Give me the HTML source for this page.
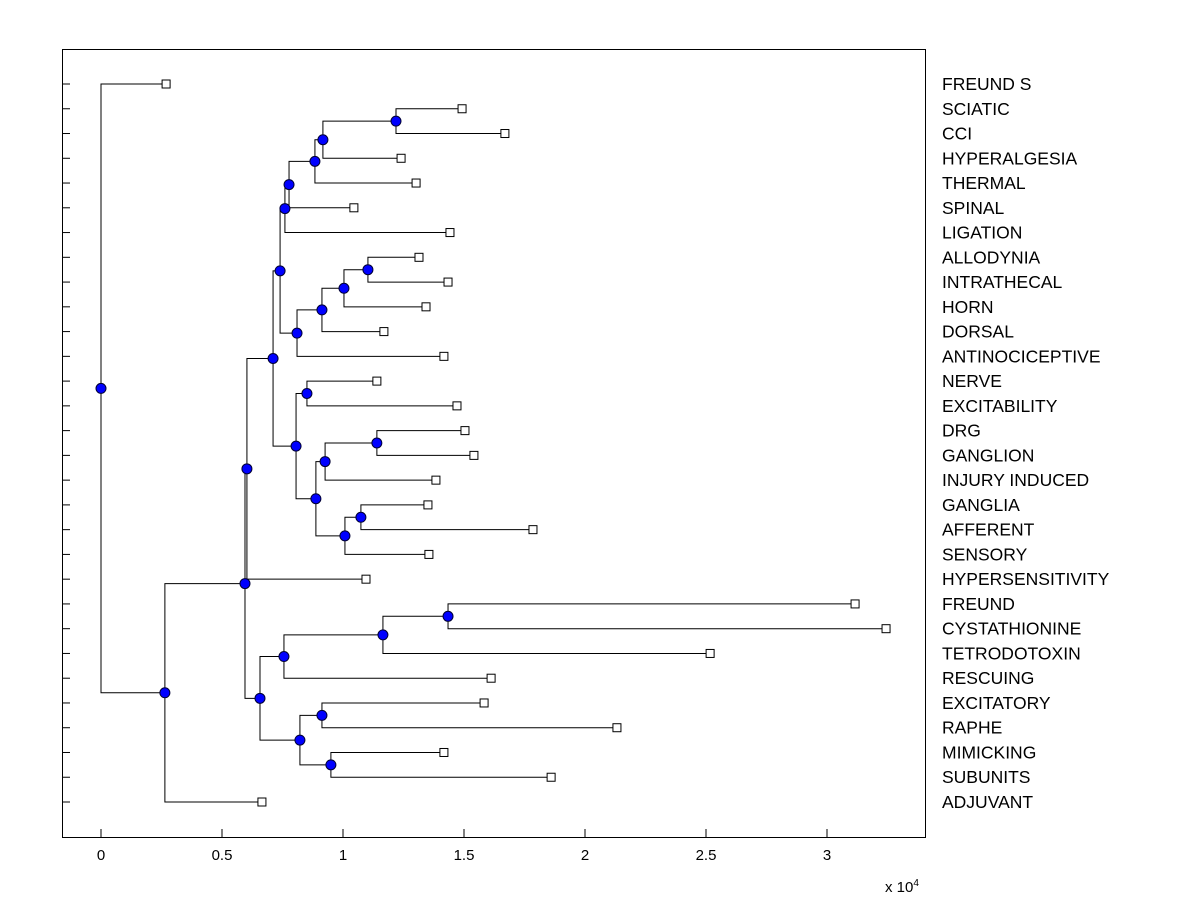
<!DOCTYPE html>
<html><head><meta charset="utf-8"><style>body{margin:0;background:#fff}svg{display:block}text{font-family:"Liberation Sans",Arial,sans-serif}</style></head>
<body>
<svg id="c" width="1200" height="900" xmlns="http://www.w3.org/2000/svg">
<rect x="0" y="0" width="1200" height="900" fill="#fff"/>
<rect x="62.5" y="49.5" width="863" height="788" fill="none" stroke="#000"/>
<g id="g"></g>
<text x="885" y="892" font-size="15">x 10<tspan dy="-6" font-size="10">4</tspan></text>
</svg>
<script>
const leafNames=["FREUND S","SCIATIC","CCI","HYPERALGESIA","THERMAL","SPINAL","LIGATION","ALLODYNIA","INTRATHECAL","HORN","DORSAL","ANTINOCICEPTIVE","NERVE","EXCITABILITY","DRG","GANGLION","INJURY INDUCED","GANGLIA","AFFERENT","SENSORY","HYPERSENSITIVITY","FREUND","CYSTATHIONINE","TETRODOTOXIN","RESCUING","EXCITATORY","RAPHE","MIMICKING","SUBUNITS","ADJUVANT"];
const leafDist=[0.269,1.492,1.669,1.240,1.302,1.045,1.442,1.314,1.434,1.343,1.169,1.417,1.140,1.471,1.504,1.541,1.384,1.351,1.785,1.355,1.095,3.116,3.244,2.517,1.612,1.583,2.132,1.417,1.860,0.665];
const nodeChildren=[["L1","L2"],["N0","L3"],["N1","L4"],["N2","L5"],["N3","L6"],["L7","L8"],["N5","L9"],["N6","L10"],["N7","L11"],["N4","N8"],["L12","L13"],["L14","L15"],["N11","L16"],["L17","L18"],["N13","L19"],["N12","N14"],["N10","N15"],["N9","N16"],["N17","L20"],["L21","L22"],["N19","L23"],["N20","L24"],["L25","L26"],["L27","L28"],["N22","N23"],["N21","N24"],["N18","N25"],["N26","L29"],["L0","N27"]];
const nodeDist=[1.219,0.917,0.884,0.777,0.760,1.103,1.004,0.913,0.810,0.740,0.851,1.140,0.926,1.074,1.008,0.888,0.806,0.711,0.603,1.434,1.165,0.756,0.913,0.950,0.822,0.657,0.595,0.264,0];
const xTicks=[0,0.5,1,1.5,2,2.5,3];
const xTickLabels=["0","0.5","1","1.5","2","2.5","3"];
const X=v=>101+v*242, Y=i=>84+i*(718/29);
const g=document.getElementById('g'),NS="http://www.w3.org/2000/svg";
function mk(t,a){const e=document.createElementNS(NS,t);for(const k in a)e.setAttribute(k,a[k]);g.appendChild(e);return e;}
const pos={};
leafNames.forEach((n,i)=>{pos["L"+i]={x:X(leafDist[i]),y:Y(i)};});
nodeChildren.forEach((c,i)=>{const a=pos[c[0]],b=pos[c[1]];pos["N"+i]={x:X(nodeDist[i]),y:(a.y+b.y)/2};});
nodeChildren.forEach((c,i)=>{const p=pos["N"+i];const a=pos[c[0]],b=pos[c[1]];
 const e=mk('path',{d:`M${a.x},${a.y}H${p.x}V${b.y}H${b.x}`,fill:'none',stroke:'#000','stroke-width':1});
 
 });
leafNames.forEach((n,i)=>{const p=pos["L"+i];
 const t=mk('line',{x1:62,x2:70,y1:p.y,y2:p.y,stroke:'#000'});
 
 
 const r=mk('rect',{x:p.x-4,y:p.y-4,width:8,height:8,fill:'#fff',stroke:'#000'});
 
 
 const l=mk('text',{x:942,y:p.y+6,'font-size':17.5});l.textContent=n;
 
 });
nodeChildren.forEach((c,i)=>{const p=pos["N"+i];
 const d=mk('circle',{cx:p.x,cy:p.y,r:5,fill:'#0000ff',stroke:'#000033'});
 
 });
xTicks.forEach((v,i)=>{const t=mk('line',{x1:X(v),x2:X(v),y1:829,y2:837,stroke:'#000'});
 
 
 const l=mk('text',{x:X(v),y:860,'font-size':15,'text-anchor':'middle'});l.textContent=xTickLabels[i];
 
 });
</script>
</body></html>
